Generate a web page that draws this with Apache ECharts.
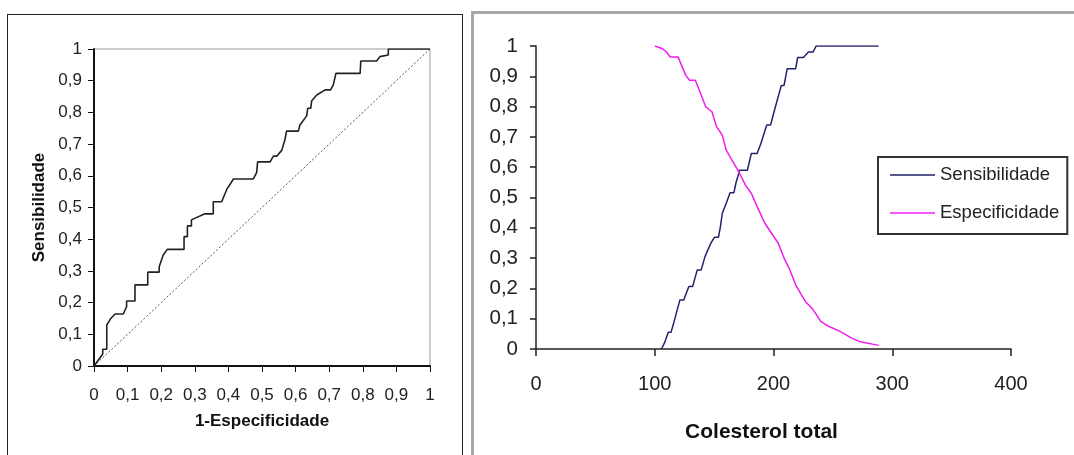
<!DOCTYPE html>
<html>
<head>
<meta charset="utf-8">
<script src="https://cdn.jsdelivr.net/npm/echarts@6/dist/echarts.min.js"></script>
<style>
html, body { margin: 0; padding: 0; background: #fff; overflow: hidden; }
.box { position: absolute; background: #fff; }
#roc { left: 7px; top: 14px; width: 454px; height: 460px; border: 1px solid #222; }
#corte { left: 471px; top: 11px; width: 620px; height: 460px; border: 3px solid #a8a8a8; }
</style>
</head>
<body>
<div class="box" id="roc"></div>
<div class="box" id="corte"></div>
<script>
// curva ROC (1-especificidade, sensibilidade)
var rocX = [0, 0.003, 0.013, 0.026, 0.026, 0.038, 0.038, 0.05, 0.0625, 0.087, 0.097, 0.097, 0.122, 0.122, 0.16, 0.16, 0.194, 0.194, 0.206, 0.218, 0.268, 0.268, 0.278, 0.278, 0.29, 0.29, 0.33, 0.355, 0.355, 0.38, 0.395, 0.415, 0.474, 0.484, 0.487, 0.524, 0.534, 0.544, 0.559, 0.568, 0.573, 0.608, 0.613, 0.633, 0.636, 0.645, 0.648, 0.663, 0.688, 0.704, 0.712, 0.72, 0.792, 0.794, 0.841, 0.851, 0.876, 0.876, 1];
var rocY = [0, 0, 0.019, 0.038, 0.053, 0.053, 0.129, 0.15, 0.164, 0.164, 0.187, 0.205, 0.205, 0.256, 0.256, 0.296, 0.296, 0.313, 0.35, 0.368, 0.368, 0.408, 0.408, 0.442, 0.442, 0.461, 0.48, 0.48, 0.518, 0.518, 0.557, 0.59, 0.59, 0.61, 0.644, 0.644, 0.662, 0.662, 0.681, 0.713, 0.741, 0.741, 0.76, 0.789, 0.813, 0.813, 0.837, 0.855, 0.871, 0.871, 0.886, 0.923, 0.923, 0.962, 0.962, 0.976, 0.981, 1, 1];
var diagX = [0, 1];
var diagY = [0, 1];

// sensibilidade e especificidade por ponto de corte
var sensX = [105.6, 108.2, 111.4, 113.7, 116.3, 121.2, 124.4, 128.7, 131.9, 135.8, 139.1, 142.3, 147.2, 150.4, 153.7, 155.3, 156.9, 160.2, 163.4, 166.7, 168.3, 171.5, 178.0, 181.3, 186.2, 189.4, 194.3, 197.5, 200.8, 206.6, 208.9, 211.5, 218.7, 220.3, 225.2, 229.4, 233.3, 235.9, 288.5];
var sensY = [0, 0.02, 0.055, 0.055, 0.091, 0.162, 0.162, 0.206, 0.206, 0.261, 0.261, 0.305, 0.349, 0.369, 0.369, 0.404, 0.448, 0.481, 0.516, 0.516, 0.547, 0.59, 0.59, 0.645, 0.645, 0.678, 0.739, 0.739, 0.788, 0.87, 0.87, 0.925, 0.925, 0.962, 0.962, 0.98, 0.98, 1, 1];
var espX = [100.1, 106.6, 109.8, 113.1, 119.6, 126.1, 129.3, 134.2, 139.1, 143.0, 148.2, 152.1, 156.9, 160.2, 165.0, 169.9, 176.4, 181.3, 186.2, 192.7, 197.5, 204.0, 208.9, 213.8, 218.7, 223.5, 226.8, 233.3, 239.8, 246.3, 256.0, 265.8, 272.3, 288.5];
var espY = [1, 0.991, 0.98, 0.964, 0.964, 0.903, 0.887, 0.887, 0.838, 0.799, 0.783, 0.733, 0.706, 0.656, 0.623, 0.591, 0.541, 0.514, 0.47, 0.415, 0.387, 0.349, 0.3, 0.261, 0.212, 0.179, 0.157, 0.13, 0.091, 0.075, 0.058, 0.036, 0.025, 0.012];

var fonte = 'Liberation Sans, Arial, sans-serif';

function pares(xs, ys) {
  var out = [];
  for (var i = 0; i < xs.length; i++) {
    out.push([xs[i], ys[i]]);
  }
  return out;
}

function virgula(v) {
  return String(Math.round(v * 10) / 10).replace('.', ',');
}

var rocChart = echarts.init(document.getElementById('roc'));
rocChart.setOption({
  animation: false,
  grid: {
    left: 86, top: 34, width: 336, height: 317,
    outerBoundsMode: 'none',
    show: true, borderColor: '#999', borderWidth: 1
  },
  xAxis: {
    type: 'value', min: 0, max: 1, interval: 0.1,
    name: '1-Especificidade', nameLocation: 'middle', nameGap: 47,
    nameTextStyle: { fontFamily: fonte, fontSize: 17, fontWeight: 'bold', color: '#111' },
    axisLine: { lineStyle: { color: '#111', width: 2 } },
    axisTick: { show: true, length: 6, lineStyle: { color: '#111' } },
    axisLabel: { formatter: virgula, margin: 21, fontFamily: fonte, fontSize: 17, color: '#222', showMinLabel: true, showMaxLabel: true },
    splitLine: { show: false }
  },
  yAxis: {
    type: 'value', min: 0, max: 1, interval: 0.1,
    name: 'Sensibilidade', nameLocation: 'middle', nameGap: 45,
    nameTextStyle: { fontFamily: fonte, fontSize: 17, fontWeight: 'bold', color: '#111' },
    axisLine: { show: true, lineStyle: { color: '#111', width: 2 } },
    axisTick: { show: true, length: 6, lineStyle: { color: '#111' } },
    axisLabel: { formatter: virgula, margin: 12, fontFamily: fonte, fontSize: 17, color: '#222' },
    splitLine: { show: false }
  },
  series: [{
    type: 'line', symbol: 'none',
    data: pares(diagX, diagY),
    lineStyle: { color: '#555', width: 1, type: [2, 2] }
  }, {
    type: 'line', symbol: 'none',
    data: pares(rocX, rocY),
    lineStyle: { color: '#222', width: 1.6 }
  }]
});

var corteChart = echarts.init(document.getElementById('corte'));
corteChart.setOption({
  animation: false,
  grid: { left: 62, top: 32, width: 475, height: 303, outerBoundsMode: 'none' },
  legend: {
    left: 404, top: 143,
    orient: 'vertical',
    data: ['Sensibilidade', 'Especificidade'],
    icon: 'rect',
    borderColor: '#333', borderWidth: 2,
    padding: [7, 8, 10, 12],
    itemWidth: 45, itemHeight: 1.5, itemGap: 16,
    textStyle: { fontFamily: fonte, fontSize: 18.5, lineHeight: 22, color: '#222' }
  },
  xAxis: {
    type: 'value', min: 0, max: 400, interval: 100,
    name: 'Colesterol total', nameLocation: 'middle', nameGap: 73,
    nameTextStyle: { fontFamily: fonte, fontSize: 21, fontWeight: 'bold', color: '#111', padding: [0, 24, 0, 0] },
    axisLine: { lineStyle: { color: '#222', width: 1.5 } },
    axisTick: { show: true, length: 7, lineStyle: { color: '#222', width: 1.5 } },
    axisLabel: { margin: 25, fontFamily: fonte, fontSize: 20, color: '#222' },
    splitLine: { show: false }
  },
  yAxis: {
    type: 'value', min: 0, max: 1, interval: 0.1,
    axisLine: { show: true, lineStyle: { color: '#222', width: 1.5 } },
    axisTick: { show: true, length: 6, lineStyle: { color: '#222', width: 1.5 } },
    axisLabel: { formatter: virgula, margin: 18, fontFamily: fonte, fontSize: 20.5, color: '#222' },
    splitLine: { show: false }
  },
  series: [{
    name: 'Sensibilidade', type: 'line', symbol: 'none',
    data: pares(sensX, sensY),
    itemStyle: { color: '#22226e' },
    lineStyle: { color: '#22226e', width: 1.5 }
  }, {
    name: 'Especificidade', type: 'line', symbol: 'none',
    data: pares(espX, espY),
    itemStyle: { color: '#f01cf0' },
    lineStyle: { color: '#f01cf0', width: 1.5 }
  }]
});
</script>
</body>
</html>
